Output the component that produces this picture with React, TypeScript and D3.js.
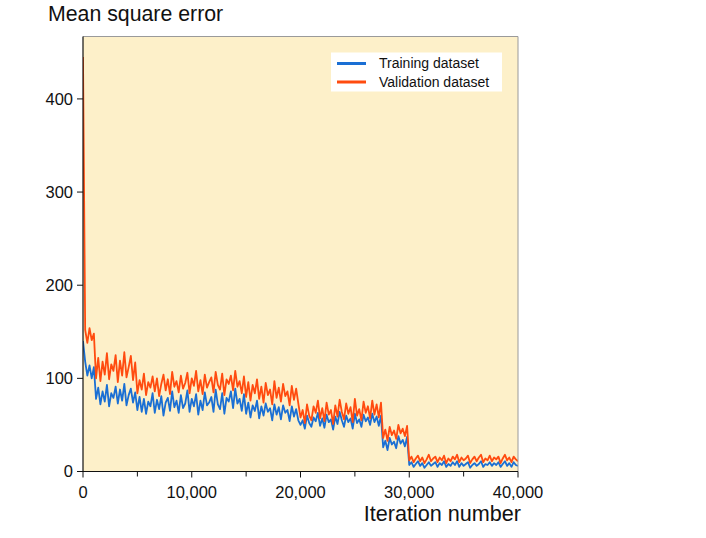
import React from "react";
import * as d3 from "d3";

const ITER_MAX = 40000;
const STEP = 200;

const validation: number[] = [
  445,
  152, 138, 154, 141, 148,
  100, 122, 97, 118, 104, 127, 99, 115, 108, 125, 96, 119, 103, 128, 101, 112, 124, 98, 117,
  84, 98, 88, 105, 82, 96, 90, 102, 86, 100, 81, 94, 104, 87, 99, 83, 107, 91, 97, 85,
  103, 89, 95, 106, 84, 100, 92, 108, 86, 98, 83, 104, 90, 96, 101, 85, 107, 93, 88, 105,
  82, 99, 94, 103, 87, 108, 91, 97, 84, 102,
  80, 96, 76, 93, 84, 99, 78, 91, 74, 95, 82, 88, 72, 97, 79, 90, 75, 94, 81, 86, 71, 92, 77, 89, 73,
  58, 66, 52, 72, 60, 55, 70, 63, 76, 57, 68, 54, 74, 61, 66, 51, 71, 59, 77, 64,
  56, 73, 62, 69, 53, 78, 60, 67, 55, 75, 63, 70, 57, 76, 61, 72, 58, 74,
  36, 45, 33, 48, 39, 44, 35, 50, 41, 46, 38, 49,
  12, 16, 10, 14, 17, 11, 15, 9, 13, 18, 11, 14, 16, 10, 15, 12, 17, 9, 14, 11,
  16, 13, 18, 10, 15, 12, 14, 17, 9, 13, 16, 11, 15, 18, 10, 14, 12, 17, 11, 15,
  13, 16, 9, 14, 18, 12, 15, 10, 16, 13, 11,
];

const training: number[] = [
  140,
  118, 103, 114, 100, 112,
  78, 90, 72, 86, 75, 93, 70, 84, 79, 91, 73, 88, 76, 94, 71, 82, 89, 74, 85,
  66, 80, 64, 78, 62, 75, 70, 84, 63, 77, 67, 81, 60, 74, 79, 65, 86, 69, 76, 63,
  82, 68, 73, 87, 64, 78, 70, 83, 61, 76, 66, 85, 71, 74, 80, 64, 88, 72, 67, 84,
  62, 79, 75, 86, 68, 89, 73, 78, 65, 83,
  62, 74, 58, 71, 65, 76, 57, 70, 60, 73, 64, 68, 55, 72, 61, 69, 56, 71, 63, 66, 54, 70, 59, 67, 55,
  50, 55, 46, 60, 52, 48, 58, 54, 63, 49, 57, 47, 61, 53, 56, 45, 59, 51, 64, 55,
  48, 60, 53, 57, 46, 62, 52, 56, 48, 61, 54, 58, 50, 62, 53, 59, 49, 60,
  26, 33, 23, 36, 29, 32, 25, 38, 30, 34, 27, 37,
  7, 10, 5, 8, 11, 6, 9, 4, 7, 10, 6, 8, 10, 5, 9, 7, 11, 5, 8, 6,
  10, 7, 11, 5, 9, 6, 8, 10, 4, 7, 9, 6, 8, 11, 5, 8, 7, 10, 6, 9,
  7, 10, 5, 8, 11, 6, 9, 5, 10, 7, 6,
];

const xTicks = [0, 10000, 20000, 30000, 40000];
const xMinorTicks = [5000, 15000, 25000, 35000];
const yTicks = [0, 100, 200, 300, 400];
const seriesNames = ["Training dataset", "Validation dataset"];

const FONT = "'Liberation Sans', Arial, Helvetica, sans-serif";
const BLUE = "#1a6fd4";
const ORANGE = "#ff4b0f";

export default function App() {
  const W = 706, H = 538;
  const left = 83, right = 518, top = 36.5, bottom = 471.5;
  const x = d3.scaleLinear().domain([0, ITER_MAX]).range([left, right]);
  const y = d3.scaleLinear().domain([0, 467]).range([bottom, top]);
  const line = d3
    .line<number>()
    .x((_, i) => x(i * STEP))
    .y((d) => y(d));
  const fmt = d3.format(",");

  return (
    <svg
      width={W}
      height={H}
      style={{ position: "absolute", left: 0, top: 0, background: "#fff" }}
      fontFamily={FONT}
    >
      <rect x={left} y={top} width={right - left} height={bottom - top} fill="#fdf0c9" />
      <defs>
        <clipPath id="plotclip">
          <rect x={left} y={top} width={right - left} height={bottom - top} />
        </clipPath>
      </defs>
      <g clipPath="url(#plotclip)">
        <path d={line(training) || ""} fill="none" stroke={BLUE} strokeWidth={1.8} strokeLinejoin="round" />
        <path d={line(validation) || ""} fill="none" stroke={ORANGE} strokeWidth={1.8} strokeLinejoin="round" />
      </g>
      {/* frame */}
      <line x1={left} x2={right} y1={top} y2={top} stroke="#9a9a9a" strokeWidth={1} />
      <line x1={right} x2={right} y1={top} y2={bottom} stroke="#9a9a9a" strokeWidth={1} />
      <line x1={left} x2={left} y1={top} y2={bottom} stroke="#111" strokeWidth={1.2} />
      <line x1={left} x2={right} y1={bottom} y2={bottom} stroke="#111" strokeWidth={1.2} />
      {/* y ticks */}
      {yTicks.map((t) => (
        <g key={"y" + t}>
          <line x1={left - 6} x2={left} y1={y(t)} y2={y(t)} stroke="#111" strokeWidth={1} />
          <text x={left - 10} y={y(t)} dy="0.35em" textAnchor="end" fontSize={16.5} fill="#111">
            {t}
          </text>
        </g>
      ))}
      {/* x ticks */}
      {xTicks.map((t) => (
        <g key={"x" + t}>
          <line x1={x(t)} x2={x(t)} y1={bottom} y2={bottom + 6} stroke="#111" strokeWidth={1} />
          <text x={x(t)} y={bottom + 26} textAnchor="middle" fontSize={16.5} fill="#111">
            {fmt(t)}
          </text>
        </g>
      ))}
      {xMinorTicks.map((t) => (
        <line key={"m" + t} x1={x(t)} x2={x(t)} y1={bottom} y2={bottom + 5} stroke="#111" strokeWidth={1} />
      ))}
      {/* titles */}
      <text x={48} y={21} fontSize={21.3} fill="#111">Mean square error</text>
      <text x={521} y={521} fontSize={21.6} textAnchor="end" fill="#111">Iteration number</text>
      {/* legend */}
      <rect x={331} y={52.5} width={171} height={39} fill="#fff" />
      {seriesNames.map((name, i) => (
        <g key={name}>
          <line x1={337} x2={366} y1={63.5 + i * 18.5} y2={63.5 + i * 18.5} stroke={i === 0 ? BLUE : ORANGE} strokeWidth={3} />
          <text x={379} y={68 + i * 18.5} fontSize={14} fill="#111">{name}</text>
        </g>
      ))}
    </svg>
  );
}
